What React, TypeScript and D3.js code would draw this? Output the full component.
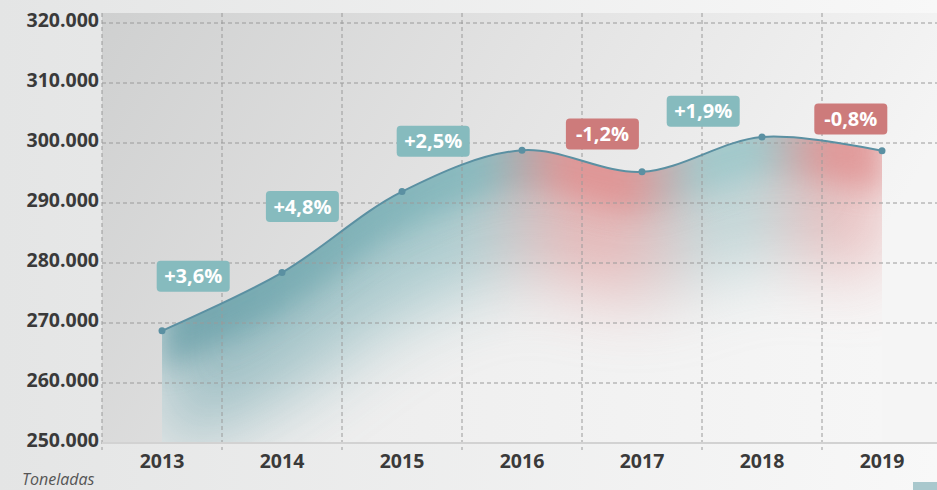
import React from 'react';
import * as d3 from 'd3';

const years = ['2013', '2014', '2015', '2016', '2017', '2018', '2019'];
const tonnes = [268700, 278400, 291900, 298800, 295200, 301000, 298700];
const yTicks = [250000, 260000, 270000, 280000, 290000, 300000, 310000, 320000];

// change labels: text, sign, anchor (fractional year index, value)
const changeText = ['+3,6%', '+4,8%', '+2,5%', '-1,2%', '+1,9%', '-0,8%'];
const changeUp = [true, true, true, false, true, false];
const labelAt = [0.26, 1.17, 2.26, 3.67, 4.51, 5.74];
const labelVal = [277800, 289400, 300300, 301500, 305300, 304000];

const W = 937;
const H = 490;
const left = 102;
const top = 13;
const bottom = 443;

const RED = '#dd8585';
const LINE = '#5b90a2';

export default function App() {
  const x = d3.scaleBand<string>().domain(years).range([left, left + 120 * years.length]).padding(0);
  const bw = x.bandwidth();
  const xc = (i: number) => (x(years[0]) as number) + bw * (i + 0.5);
  const y = d3.scaleLinear().domain([250000, 320000]).range([bottom, 23]);

  const pts = tonnes.map((v, i) => [xc(i), y(v)] as [number, number]);

  const area = d3.area<[number, number]>()
    .x(d => d[0]).y0(bottom).y1(d => d[1])
    .curve(d3.curveCatmullRom);
  const band = (depth: number) => d3.area<[number, number]>()
    .x(d => d[0]).y0(d => d[1] + depth).y1(d => d[1] - 60)
    .curve(d3.curveCatmullRom);
  const line = d3.line<[number, number]>()
    .x(d => d[0]).y(d => d[1])
    .curve(d3.curveCatmullRom);

  const x0 = xc(0);
  const x1 = xc(years.length - 1);
  const fmt = (v: number) => d3.format(',')(v).replace(/,/g, '.');
  const font = '"Open Sans", "Noto Sans", sans-serif';

  return (
    <svg width={W} height={H} style={{ position: 'absolute', left: 0, top: 0, display: 'block' }}>
      <defs>
        <linearGradient id="page" x1="0" x2="1" y1="0" y2="0">
          <stop offset="0" stopColor="#e4e5e5" />
          <stop offset="1" stopColor="#f8f8f8" />
        </linearGradient>
        <linearGradient id="plot" x1="0" x2="1" y1="0" y2="0.3">
          <stop offset="0" stopColor="#cfd0d0" />
          <stop offset="0.5" stopColor="#e3e3e3" />
          <stop offset="1" stopColor="#f5f5f5" />
        </linearGradient>
        <linearGradient id="base" gradientUnits="userSpaceOnUse" x1={x0} x2={x1} y1="0" y2="0">
          <stop offset="0" stopColor="#ebebeb" />
          <stop offset="1" stopColor="#f6f6f6" />
        </linearGradient>
        <linearGradient id="hue" gradientUnits="userSpaceOnUse" x1={x0} x2={x1} y1="0" y2="0">
          <stop offset="0" stopColor="#5a96a0" />
          <stop offset="0.45" stopColor="#78b2b7" />
          <stop offset="0.56" stopColor={RED} />
          <stop offset="0.65" stopColor={RED} />
          <stop offset="0.75" stopColor="#92c2c5" />
          <stop offset="0.83" stopColor="#92c2c5" />
          <stop offset="0.92" stopColor={RED} />
          <stop offset="1" stopColor={RED} />
        </linearGradient>
        <clipPath id="under">
          <path d={area(pts) as string} />
        </clipPath>
        <filter id="wide" x="-20%" y="-50%" width="140%" height="200%">
          <feGaussianBlur stdDeviation="36" />
        </filter>
        <filter id="narrow" x="-20%" y="-50%" width="140%" height="200%">
          <feGaussianBlur stdDeviation="14" />
        </filter>
      </defs>

      <rect x={0} y={0} width={W} height={H} fill="url(#page)" />
      <rect x={left} y={top} width={W - left} height={bottom - top} fill="url(#plot)" />

      <path d={area(pts) as string} fill="url(#base)" />
      <g clipPath="url(#under)">
        <path d={band(125)(pts) as string} fill="url(#hue)" filter="url(#wide)" opacity={0.55} />
        <path d={band(40)(pts) as string} fill="url(#hue)" filter="url(#narrow)" opacity={0.65} />
      </g>

      {/* grid */}
      <g stroke="#9a9a9a" strokeWidth={1} strokeDasharray="4,3" fill="none">
        {yTicks.slice(1).map(t => (
          <line key={t} x1={left} x2={W} y1={y(t)} y2={y(t)} />
        ))}
        {years.map(yr => (
          <line key={yr} x1={x(yr) as number} x2={x(yr) as number} y1={top} y2={bottom + 7} />
        ))}
      </g>
      <line x1={left} x2={W} y1={bottom} y2={bottom} stroke="#d2d2d2" strokeWidth={2} />

      <path d={line(pts) as string} fill="none" stroke={LINE} strokeWidth={2} />
      {pts.map((p, i) => (
        <circle key={i} cx={p[0]} cy={p[1]} r={3.5} fill={LINE} />
      ))}

      {/* y axis */}
      <g fontFamily={font} fontWeight={700} fontSize={19.5} fill="#3a3a3a" textAnchor="end">
        {yTicks.map(t => (
          <text key={t} x={99} y={y(t) + 4}>{fmt(t)}</text>
        ))}
      </g>
      {/* x axis */}
      <g fontFamily={font} fontWeight={700} fontSize={19.5} fill="#3a3a3a" textAnchor="middle">
        {years.map((yr, i) => (
          <text key={yr} x={xc(i)} y={468}>{yr}</text>
        ))}
      </g>
      <text x={22} y={485} fontFamily={font} fontStyle="italic" fontSize={16} fill="#555">Toneladas</text>

      {/* change labels */}
      {changeText.map((t, i) => {
        const cx = xc(labelAt[i]);
        const cy = y(labelVal[i]);
        return (
          <g key={t}>
            <rect x={cx - 36.5} y={cy - 15.5} width={73} height={31} rx={4}
              fill={changeUp[i] ? '#86bbbe' : '#cd7b7b'} />
            <text x={cx} y={cy + 7} textAnchor="middle" fontFamily={font} fontWeight={700}
              fontSize={20} fill="#ffffff">{t}</text>
          </g>
        );
      })}

      <rect x={913} y={482} width={24} height={8} fill="#a9c8cd" />
    </svg>
  );
}
